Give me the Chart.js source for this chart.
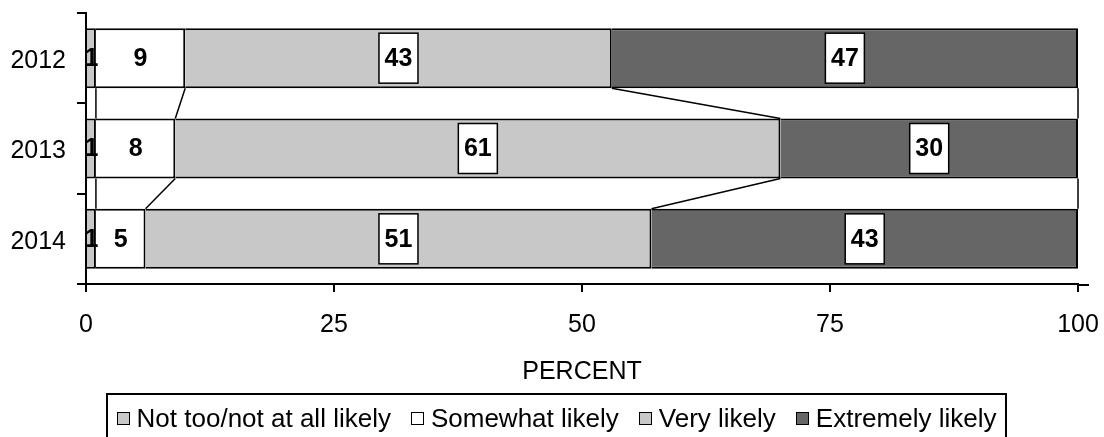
<!DOCTYPE html>
<html><head><meta charset="utf-8">
<script src="https://cdn.jsdelivr.net/npm/chart.js@4"></script>
<style>
html,body{margin:0;padding:0;background:#fff;}
#wrap{position:relative;width:1104px;height:437px;overflow:hidden;background:#fff;}
canvas{position:absolute;left:0;top:0;}
#legend{position:absolute;left:106px;top:393px;width:901px;height:60px;border:2px solid #000;border-bottom:none;box-sizing:border-box;display:flex;justify-content:center;align-items:flex-start;padding-top:8px;font:26px "Liberation Sans",Arial,sans-serif;line-height:30px;color:#000;}
.item{display:flex;align-items:center;margin:0 10px;white-space:nowrap;}
.sw{width:13px;height:13px;border:1px solid #000;margin-right:7px;box-sizing:border-box;}
</style></head>
<body>
<div id="wrap">
<canvas id="c" width="1104" height="437"></canvas>
<div id="legend"></div>
</div>
<script>
const years = ['2012', '2013', '2014'];
const notLikely = [1, 1, 1];
const somewhatLikely = [9, 8, 5];
const veryLikely = [43, 61, 51];
const extremelyLikely = [47, 30, 43];
const seriesNames = ['Not too/not at all likely', 'Somewhat likely', 'Very likely', 'Extremely likely'];
const xTicks = [0, 25, 50, 75, 100];

const colors = ['#C8C8C8', '#FFFFFF', '#C8C8C8', '#666666'];
const labelBoxed = [false, false, true, true];
const FONT = '"Liberation Sans", Arial, sans-serif';

const seriesValues = [notLikely, somewhatLikely, veryLikely, extremelyLikely];
const datasets = seriesValues.map((vals, k) => ({
  label: seriesNames[k],
  data: vals,
  backgroundColor: colors[k],
  borderColor: '#000',
  borderWidth: 2,
  borderSkipped: 'start',
  categoryPercentage: 1,
  barPercentage: 0.664
}));

const overlay = {
  id: 'overlay',
  afterDatasetsDraw(chart) {
    const ctx = chart.ctx;
    ctx.save();
    // series lines
    ctx.strokeStyle = '#000';
    ctx.lineWidth = 1.5;
    chart.data.datasets.forEach((ds, d) => {
      const bars = chart.getDatasetMeta(d).data;
      for (let i = 0; i < bars.length - 1; i++) {
        const a = bars[i], b = bars[i + 1];
        ctx.beginPath();
        ctx.moveTo(a.x, a.y + a.height / 2);
        ctx.lineTo(b.x, b.y - b.height / 2);
        ctx.stroke();
      }
    });
    // data labels
    ctx.font = 'bold 25px ' + FONT;
    ctx.textAlign = 'center';
    ctx.textBaseline = 'middle';
    chart.data.datasets.forEach((ds, d) => {
      const bars = chart.getDatasetMeta(d).data;
      bars.forEach((bar, i) => {
        const cx = (bar.x + bar.base) / 2;
        const cy = bar.y;
        if (labelBoxed[d]) {
          ctx.fillStyle = '#fff';
          ctx.fillRect(cx - 19.5, cy - 25, 39, 50);
          ctx.lineWidth = 1.5;
          ctx.strokeStyle = '#000';
          ctx.strokeRect(cx - 19.5, cy - 25, 39, 50);
        }
        ctx.fillStyle = '#000';
        ctx.fillText(String(ds.data[i]), cx, cy + 1);
      });
    });
    // axis line extension on the right
    const xs = chart.scales.x;
    ctx.strokeStyle = '#000';
    ctx.lineWidth = 2;
    ctx.beginPath();
    ctx.moveTo(chart.chartArea.right, xs.top + 1);
    ctx.lineTo(chart.chartArea.right + 11, xs.top + 1);
    ctx.stroke();
    ctx.restore();
  }
};

new Chart(document.getElementById('c'), {
  type: 'bar',
  data: { labels: years, datasets },
  plugins: [overlay],
  options: {
    indexAxis: 'y',
    responsive: false,
    animation: false,
    events: [],
    layout: { padding: { top: 13, right: 26, left: 0, bottom: 0 } },
    plugins: { legend: { display: false }, tooltip: { enabled: false } },
    scales: {
      x: {
        type: 'linear', stacked: true, min: xTicks[0], max: xTicks[xTicks.length - 1],
        afterBuildTicks: s => { s.ticks = xTicks.map(v => ({ value: v })); },
        ticks: { color: '#000', font: { size: 25, family: FONT }, padding: 18, maxRotation: 0 },
        grid: { drawOnChartArea: false, drawTicks: true, tickLength: 8, color: '#000', lineWidth: 2 },
        border: { display: true, color: '#000', width: 2 },
        title: { display: true, text: 'PERCENT', color: '#000', font: { size: 25, family: FONT }, padding: { top: 0, bottom: 50 } },
        afterFit: s => { s.height = 153; s.paddingLeft = 0; s.paddingRight = 0; }
      },
      y: {
        stacked: true,
        ticks: { color: '#000', font: { size: 25, family: FONT }, padding: 11, labelOffset: 3 },
        grid: { drawOnChartArea: false, drawTicks: true, tickLength: 9, color: '#000', lineWidth: 2 },
        border: { display: true, color: '#000', width: 2 },
        afterFit: s => { s.width = 86; s.paddingTop = 0; s.paddingBottom = 0; }
      }
    }
  }
});

const lg = document.getElementById('legend');
seriesNames.forEach((name, k) => {
  const it = document.createElement('div');
  it.className = 'item';
  const sw = document.createElement('span');
  sw.className = 'sw';
  sw.style.background = colors[k];
  const tx = document.createElement('span');
  tx.textContent = name;
  it.appendChild(sw); it.appendChild(tx);
  lg.appendChild(it);
});
</script>
</body></html>
